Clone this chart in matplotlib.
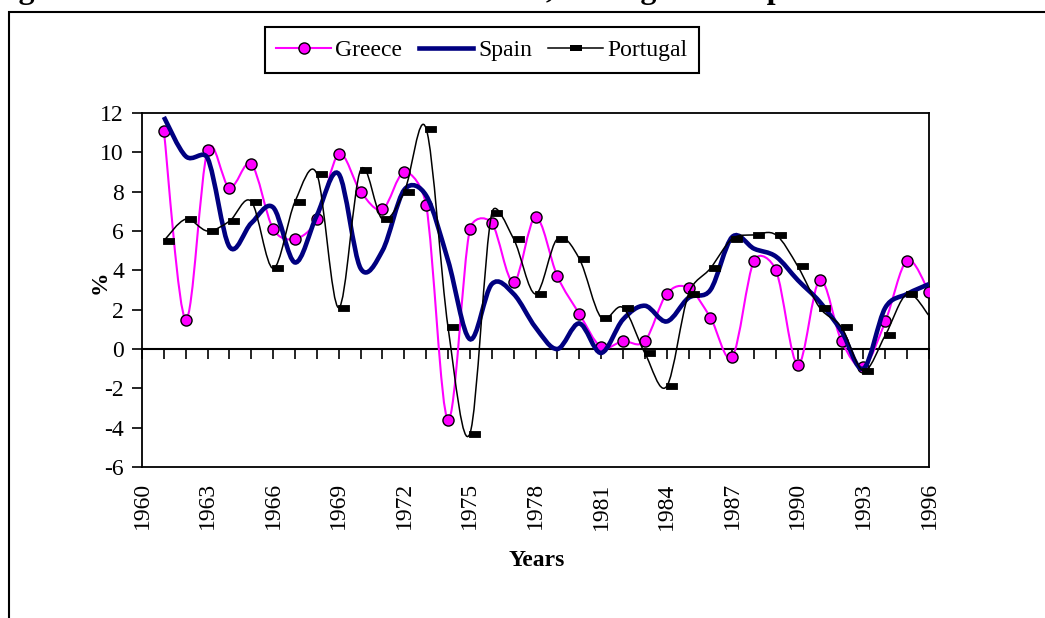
import numpy as np
import matplotlib
matplotlib.use('Agg')
import matplotlib.pyplot as plt
from matplotlib.path import Path
from matplotlib.patches import PathPatch, Rectangle
from matplotlib.lines import Line2D

plt.rcParams['font.family'] = ['Liberation Serif', 'DejaVu Serif']
plt.rcParams['axes.unicode_minus'] = False

# Real GDP growth (%), 1961-1996
years = list(range(1961, 1997))
greece = [11.1, 1.5, 10.1, 8.2, 9.4, 6.1, 5.6, 6.6, 9.9, 8.0, 7.1, 9.0, 7.3, -3.6,
          6.1, 6.4, 3.4, 6.7, 3.7, 1.8, 0.1, 0.4, 0.4, 2.8, 3.1, 1.6, -0.4, 4.5,
          4.0, -0.8, 3.5, 0.4, -0.9, 1.4, 4.5, 2.9]
spain = [11.8, 9.8, 9.7, 5.2, 6.4, 7.2, 4.4, 6.8, 8.9, 4.1, 5.0, 8.1, 7.8, 4.5,
         0.5, 3.3, 2.8, 1.1, 0.0, 1.3, -0.2, 1.5, 2.2, 1.4, 2.6, 3.0, 5.7, 5.1,
         4.7, 3.5, 2.4, 0.9, -1.0, 2.1, 2.8, 3.3]
portugal = [5.5, 6.6, 6.0, 6.5, 7.5, 4.1, 7.5, 8.9, 2.1, 9.1, 6.6, 8.0, 11.2, 1.1,
            -4.3, 6.9, 5.6, 2.8, 5.6, 4.6, 1.6, 2.1, -0.2, -1.9, 2.8, 4.1, 5.6, 5.8,
            5.8, 4.2, 2.1, 1.1, -1.1, 0.7, 2.8, 1.7]
labels = ['Greece', 'Spain', 'Portugal']
label_years = list(range(1960, 1997, 3))

MAGENTA = '#FF00FF'
NAVY = '#000080'


def smooth_path(ax, x, y):
    # Excel style smoothed line: Bezier segments built in screen space,
    # tangent handles capped at half the segment length
    tr = ax.transData
    pts = tr.transform(np.column_stack([x, y]).astype(float))
    n = len(pts)
    verts = [pts[0]]
    codes = [Path.MOVETO]
    for i in range(n - 1):
        p0 = pts[i - 1] if i > 0 else pts[i]
        p1, p2 = pts[i], pts[i + 1]
        p3 = pts[i + 2] if i + 2 < n else pts[i + 1]
        half = np.hypot(*(p2 - p1)) / 2
        t1 = (p2 - p0) / 6
        t2 = (p3 - p1) / 6
        if np.hypot(*t1) > half:
            t1 = t1 * half / np.hypot(*t1)
        if np.hypot(*t2) > half:
            t2 = t2 * half / np.hypot(*t2)
        verts += [p1 + t1, p2 - t2, p2]
        codes += [Path.CURVE4] * 3
    return Path(tr.inverted().transform(np.array(verts)), codes)


dash = Path([(-0.1, -0.3), (1, -0.3), (1, 0.3), (-0.1, 0.3), (-0.1, -0.3)],
            [Path.MOVETO, Path.LINETO, Path.LINETO, Path.LINETO, Path.CLOSEPOLY])
dash_small = Path([(-1, -0.6), (1, -0.6), (1, 0.6), (-1, 0.6), (-1, -0.6)],
                  [Path.MOVETO, Path.LINETO, Path.LINETO, Path.LINETO, Path.CLOSEPOLY])

W, H = 1045, 618
fig = plt.figure(figsize=(W / 100, H / 100), dpi=100)
ax = fig.add_axes([142 / W, 1 - 467 / H, (929 - 142) / W, (467 - 113) / H])
ax.set_xlim(1960, 1996)
ax.set_ylim(-6, 12)

ax.add_patch(PathPatch(smooth_path(ax, years, greece), fill=False, ec=MAGENTA, lw=1.5, zorder=3))
ax.plot(years, greece, ls='none', marker='o', ms=8, mfc=MAGENTA, mec='black', mew=1, zorder=3.1)
ax.add_patch(PathPatch(smooth_path(ax, years, spain), fill=False, ec=NAVY, lw=3.3, zorder=4))
ax.add_patch(PathPatch(smooth_path(ax, years, portugal), fill=False, ec='black', lw=1.1, zorder=5))
ax.plot(years, portugal, ls='none', marker=dash, ms=14, mfc='black', mec='black', mew=0.6, zorder=5.1)

ax.set_yticks(range(-6, 13, 2))
ax.set_xticks(label_years)
ax.tick_params(axis='y', direction='out', length=7, width=1.2, pad=6, labelsize=17)
ax.tick_params(axis='x', length=0, pad=11, labelsize=17, labelrotation=90)
for s in ax.spines.values():
    s.set_linewidth(1.3)

# category axis crossing at zero
zax = ax.secondary_xaxis(6 / 18)
zax.set_xticks(range(1960, 1997))
zax.tick_params(direction='out', length=7, width=1.2, labelbottom=False)
zax.spines['bottom'].set_linewidth(1.5)

fig.text(100 / W, 1 - 282 / H, '%', rotation=90, fontweight='bold', fontsize=17,
         ha='center', va='center')
fig.text(537 / W, 1 - 560 / H, 'Years', fontweight='bold', fontsize=17,
         ha='center', va='center')

handles = [
    Line2D([], [], color=MAGENTA, lw=1.5, marker='o', ms=8, mfc=MAGENTA, mec='black', mew=1),
    Line2D([], [], color=NAVY, lw=3.3),
    Line2D([], [], color='black', lw=1.1, marker=dash_small, ms=8, mfc='black', mew=0),
]
leg = fig.legend(handles, labels, loc='center', bbox_to_anchor=(482 / W, 1 - 50 / H),
                 ncol=3, fancybox=False, edgecolor='black', framealpha=1, fontsize=17,
                 handlelength=2.3, handletextpad=0.2, columnspacing=0.7,
                 borderpad=0.5, borderaxespad=0)
leg.get_frame().set_linewidth(1.5)

# page title cut off at the top, and the chart area border
fig.text(-10 / W, 1 + 1.5 / H, 'Figure 1: Real Growth of GDP of Greece, Portugal and Spain',
         fontsize=23, fontweight='bold', ha='left', va='baseline')
fig.add_artist(Rectangle((9 / W, -0.1), 1.2, 1.1 - 12.5 / H, transform=fig.transFigure,
                         fill=False, ec='black', lw=1.5))

fig.savefig('out.png', dpi=100)
